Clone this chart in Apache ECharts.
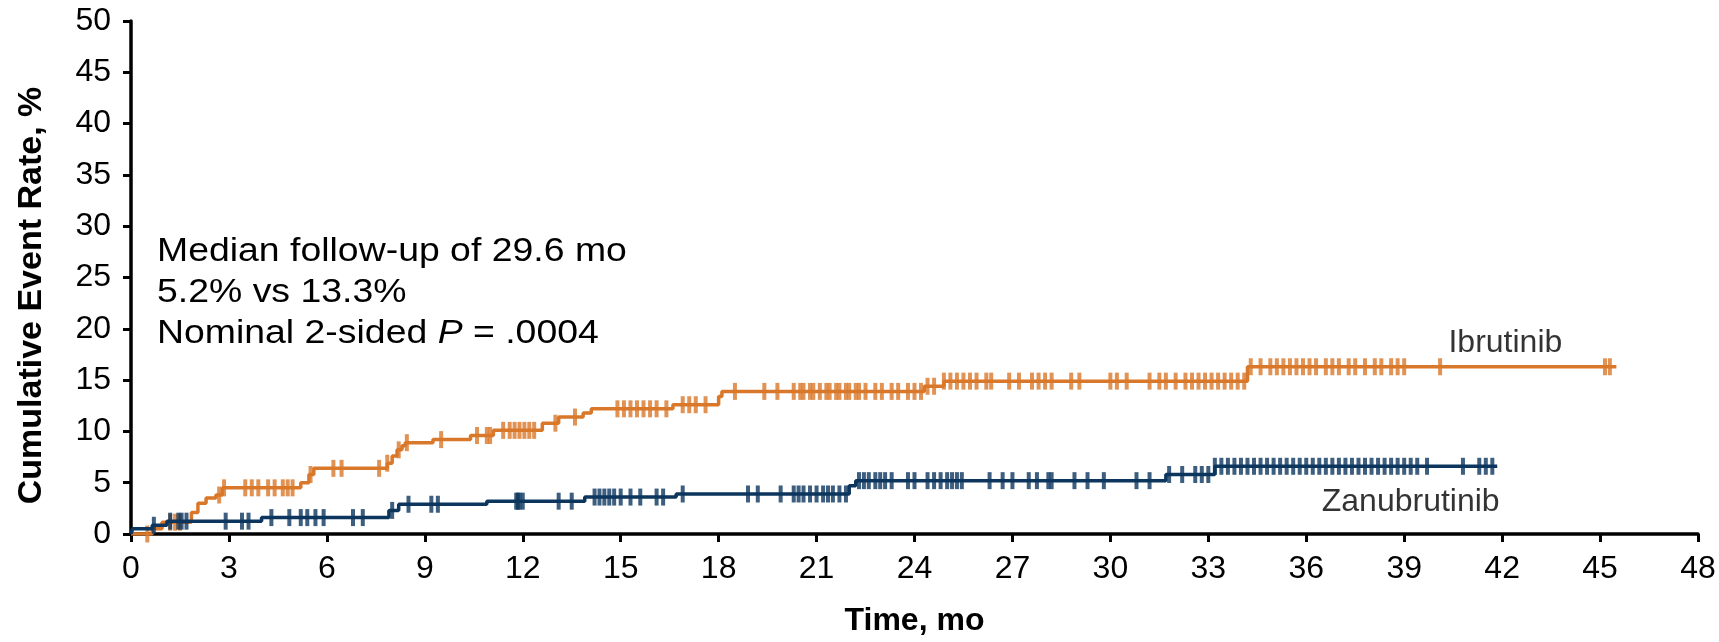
<!DOCTYPE html>
<html>
<head>
<meta charset="utf-8">
<script src="https://cdn.jsdelivr.net/npm/echarts@6/dist/echarts.min.js"></script>
<style>
html,body{margin:0;padding:0;background:#fff;}
#chart{width:1719px;height:642px;}
</style>
</head>
<body>
<div id="chart"></div>
<script>
// ---- Data ----
const xTicks = [0,3,6,9,12,15,18,21,24,27,30,33,36,39,42,45,48];
const yTicks = [0,5,10,15,20,25,30,35,40,45,50];

// Ibrutinib step curve: [time (mo), cumulative event rate (%)]
const ibrutinibSteps = [
  [0,0],[0.65,0.5],[0.95,1.15],[1.85,2.1],[2.05,3.0],[2.3,3.5],[2.6,3.8],[2.8,4.5],
  [5.2,5.0],[5.45,5.8],[5.6,6.4],[7.85,6.9],[8.0,7.6],[8.15,8.2],[8.3,8.6],[8.4,8.9],
  [9.25,9.2],[10.4,9.6],[11.1,10.1],[12.6,10.8],[13.1,11.4],[13.85,11.8],[14.1,12.2],
  [16.6,12.6],[18.0,13.4],[18.1,13.9],[24.3,14.4],[24.9,14.9],[34.2,16.3],[45.5,16.3]
];
// Ibrutinib censoring times (mo)
const ibrutinibCensor = [
  0.5,1.2,1.35,1.5,2.7,2.85,3.5,3.7,3.9,4.2,4.4,4.65,4.8,4.95,5.5,6.2,6.45,7.6,7.85,
  8.2,8.45,9.5,10.6,10.9,11.0,11.4,11.6,11.75,11.9,12.05,12.2,12.35,13.0,13.6,
  14.9,15.1,15.3,15.5,15.7,15.9,16.1,16.4,16.9,17.1,17.3,17.6,18.5,19.4,19.8,
  20.3,20.5,20.6,20.8,20.9,21.1,21.3,21.4,21.6,21.7,21.9,22.0,22.2,22.3,22.5,22.8,
  23.0,23.3,23.5,23.8,24.0,24.2,24.4,24.6,24.9,25.1,25.3,25.5,25.7,25.9,26.2,26.35,
  26.9,27.2,27.6,27.8,28.0,28.2,28.8,29.05,30.0,30.2,30.5,31.2,31.5,31.7,32.0,32.3,
  32.5,32.7,32.9,33.1,33.3,33.5,33.7,33.9,34.1,34.3,34.6,34.9,35.1,35.3,35.5,35.7,
  35.9,36.1,36.3,36.6,36.8,37.0,37.3,37.5,37.8,38.1,38.3,38.6,38.8,39.0,40.1,45.15,45.3
];

// Zanubrutinib step curve
const zanubrutinibSteps = [
  [0,0],[0.05,0.5],[0.65,0.85],[1.1,1.25],[4.0,1.6],[7.9,2.3],[8.2,2.9],[10.9,3.2],
  [13.9,3.6],[16.7,3.9],[22.0,4.7],[22.2,5.2],[31.7,5.8],[33.2,6.6],[41.85,6.6]
];
// Zanubrutinib censoring times (mo)
const zanubrutinibCensor = [
  0.7,1.2,1.45,1.55,1.7,2.9,3.4,3.6,4.3,4.85,5.2,5.4,5.65,5.9,6.8,7.1,8.0,8.5,9.2,9.4,
  11.8,11.85,11.9,12.0,13.1,13.5,14.2,14.35,14.5,14.65,14.8,15.0,15.3,15.6,16.1,16.3,
  16.9,18.9,19.2,19.9,20.3,20.45,20.6,20.8,21.0,21.2,21.35,21.5,21.7,21.9,22.3,22.45,
  22.6,22.8,22.95,23.1,23.3,23.8,24.0,24.4,24.6,24.8,25.0,25.15,25.3,25.45,26.3,26.7,
  27.0,27.5,27.75,28.1,28.2,28.9,29.3,29.8,30.8,31.2,31.8,32.2,32.6,32.8,33.0,33.2,
  33.4,33.6,33.8,34.0,34.2,34.4,34.6,34.8,35.0,35.2,35.4,35.6,35.8,36.0,36.2,36.4,
  36.6,36.8,37.0,37.2,37.4,37.6,37.8,38.0,38.2,38.4,38.6,38.8,39.0,39.2,39.4,39.7,
  40.8,41.3,41.5,41.7
];

const seriesNames = ['Ibrutinib','Zanubrutinib'];
const annotationLines = ['Median follow-up of 29.6 mo','5.2% vs 13.3%','Nominal 2-sided {i|P} = .0004'];

// ---- Rendering ----
const FONT = '"Liberation Sans", Arial, Helvetica, sans-serif';
const ORANGE = '#D9782A';
const BLUE = '#0C365E';

function levelAt(steps, t){
  let v = steps[0][1];
  for (const s of steps){ if (s[0] <= t) v = s[1]; else break; }
  return v;
}
const ibrCensorPts = ibrutinibCensor.map(t => [t, levelAt(ibrutinibSteps, t)]);
const zanCensorPts = zanubrutinibCensor.map(t => [t, levelAt(zanubrutinibSteps, t)]);

const chart = echarts.init(document.getElementById('chart'), null, {renderer:'canvas'});
const axisCommon = {
  type:'value',
  axisLine:{show:true, onZero:false, lineStyle:{color:'#000', width:3.5}},
  axisTick:{show:true, inside:false, length:8, lineStyle:{color:'#000', width:3}},
  splitLine:{show:false},
  axisLabel:{color:'#000', fontSize:32, fontFamily:FONT},
  nameLocation:'middle',
  nameTextStyle:{color:'#000', fontWeight:'bold', fontFamily:FONT}
};
chart.setOption({
  animation:false,
  backgroundColor:'#fff',
  grid:{left:131, right:21, top:21, bottom:100},
  xAxis: Object.assign({}, axisCommon, {
    min:xTicks[0], max:xTicks[xTicks.length-1], interval:3,
    axisLabel: Object.assign({}, axisCommon.axisLabel, {margin:19}),
    name:'Time, mo', nameGap:71,
    nameTextStyle: Object.assign({}, axisCommon.nameTextStyle, {fontSize:32})
  }),
  yAxis: Object.assign({}, axisCommon, {
    min:yTicks[0], max:yTicks[yTicks.length-1], interval:5,
    axisLabel: Object.assign({}, axisCommon.axisLabel, {margin:20}),
    name:'Cumulative Event Rate, %', nameGap:82, nameRotate:90,
    nameTextStyle: Object.assign({}, axisCommon.nameTextStyle, {fontSize:34, padding:[0,36,0,0]})
  }),
  series:[
    {name:seriesNames[0], type:'line', step:'end', data:ibrutinibSteps, showSymbol:false, symbol:'none',
     lineStyle:{color:ORANGE, width:3.5}, z:3},
    {name:seriesNames[1], type:'line', step:'end', data:zanubrutinibSteps, showSymbol:false, symbol:'none',
     lineStyle:{color:BLUE, width:3.5}, z:4},
    {name:seriesNames[0]+' censored', type:'scatter', data:ibrCensorPts, symbol:'rect', symbolSize:[4,17],
     itemStyle:{color:ORANGE}, clip:false, z:3},
    {name:seriesNames[1]+' censored', type:'scatter', data:zanCensorPts, symbol:'rect', symbolSize:[4,17],
     itemStyle:{color:BLUE}, clip:false, z:4},
    {type:'scatter', data:[[42.1,18.6]], symbolSize:0, silent:true,
     label:{show:true, position:'inside', formatter:seriesNames[0], color:'#000', fontSize:32, fontFamily:FONT}},
    {type:'scatter', data:[[39.2,3.15]], symbolSize:0, silent:true,
     label:{show:true, position:'inside', formatter:seriesNames[1], color:'#000', fontSize:32, fontFamily:FONT}}
  ],
  graphic:[{
    type:'text', left:157, top:231, scaleX:1.1,
    style:{
      text: annotationLines.join('\n'),
      fill:'#000', font:'34px ' + FONT, lineHeight:41,
      rich:{ i:{fontStyle:'italic', fontSize:34, fontFamily:FONT, fill:'#000', lineHeight:41} }
    }
  }]
});
</script>
</body>
</html>
